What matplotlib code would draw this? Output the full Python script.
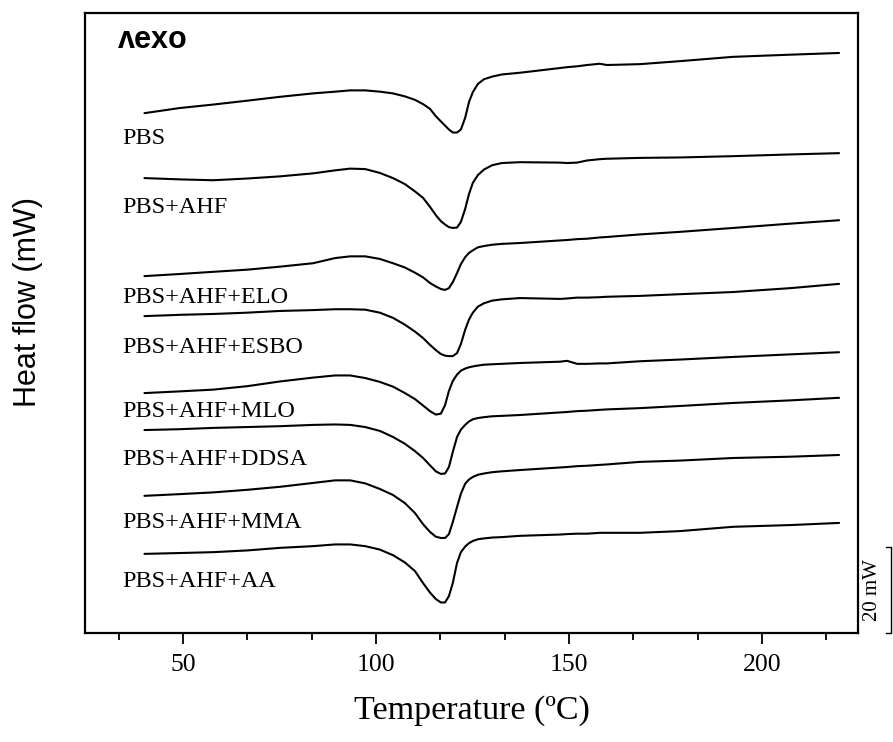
import numpy as np
import matplotlib
matplotlib.use("Agg")
import matplotlib.pyplot as plt
from matplotlib.ticker import MultipleLocator, AutoMinorLocator

# DSC traces: temperature (degC) and heat flow (mW, stacked offsets included)
labels = ["PBS", "PBS+AHF", "PBS+AHF+ELO", "PBS+AHF+ESBO",
          "PBS+AHF+MLO", "PBS+AHF+DDSA", "PBS+AHF+MMA", "PBS+AHF+AA"]

temp = [40, 49.2, 57.8, 66.6, 75.1, 83.7, 89.4, 93.3, 97.2, 101.0,
        104.4, 107.5, 110.1, 112.2, 114.0, 115.5, 116.8, 117.9, 118.9, 119.9,
        121.0, 122.0, 123.1, 124.1, 125.1, 126.4, 128.0, 130.1, 132.6, 137.3,
        147.7, 149.5, 152.1, 154.7, 158.0, 159.8, 168.4, 178.8, 192.5, 207.3, 220]

pbs = [120.9, 122.1, 122.9, 123.8, 124.7, 125.5, 125.9, 126.2, 126.2, 125.9,
       125.5, 124.8, 124.0, 123.0, 121.9, 120.2, 119.0, 118.0, 117.1, 116.4,
       116.4, 117.1, 119.8, 123.5, 125.8, 127.7, 128.8, 129.4, 129.9, 130.3,
       131.4, 131.6, 131.8, 132.1, 132.4, 132.1, 132.3, 133.0, 134.0, 134.5, 134.9]
ahf = [105.8, 105.5, 105.3, 105.7, 106.2, 106.9, 107.6, 108.0, 107.9, 107.0,
       105.8, 104.4, 102.7, 101.2, 99.1, 97.2, 95.8, 95.0, 94.4, 94.2,
       94.3, 95.6, 98.6, 102.1, 104.7, 106.5, 107.8, 108.8, 109.3, 109.5,
       109.4, 109.3, 109.4, 109.9, 110.2, 110.3, 110.5, 110.6, 110.9, 111.3, 111.6]
elo = [83.0, 83.5, 84.0, 84.5, 85.2, 86.0, 87.2, 87.6, 87.6, 87.0,
       86.0, 85.0, 83.8, 82.7, 81.4, 80.6, 80.0, 79.8, 80.2, 81.6,
       83.7, 85.8, 87.4, 88.4, 89.0, 89.7, 90.0, 90.3, 90.5, 90.7,
       91.3, 91.4, 91.6, 91.7, 92.0, 92.1, 92.7, 93.3, 94.2, 95.2, 96.0]
esbo = [73.7, 74.0, 74.2, 74.5, 74.9, 75.1, 75.3, 75.3, 75.2, 74.5,
        73.3, 71.7, 70.1, 68.6, 67.0, 65.8, 64.9, 64.5, 64.4, 64.4,
        65.1, 67.2, 70.5, 72.9, 74.5, 75.9, 76.7, 77.3, 77.6, 77.9,
        77.7, 77.8, 78.0, 78.0, 78.1, 78.2, 78.4, 78.8, 79.3, 80.2, 81.2]
mlo = [55.8, 56.2, 56.6, 57.4, 58.5, 59.4, 59.9, 59.9, 59.3, 58.4,
       57.3, 55.8, 54.4, 52.9, 51.6, 50.8, 51.0, 53.0, 56.3, 58.6,
       60.1, 61.0, 61.5, 61.8, 62.0, 62.2, 62.4, 62.5, 62.6, 62.8,
       63.1, 63.3, 62.6, 62.6, 62.7, 62.7, 63.2, 63.6, 64.2, 64.8, 65.3]
ddsa = [47.2, 47.4, 47.7, 47.9, 48.1, 48.4, 48.5, 48.4, 47.9, 47.0,
        45.6, 44.0, 42.3, 40.7, 39.0, 37.6, 37.0, 37.1, 38.6, 42.1,
        45.6, 47.3, 48.4, 49.2, 49.7, 50.0, 50.2, 50.4, 50.5, 50.7,
        51.3, 51.4, 51.6, 51.7, 51.9, 52.0, 52.3, 52.8, 53.5, 54.1, 54.7]
mma = [31.9, 32.3, 32.7, 33.3, 34.0, 34.9, 35.5, 35.5, 34.8, 33.5,
       32.1, 30.2, 27.9, 25.3, 23.5, 22.4, 22.1, 22.1, 23.0, 25.8,
       29.3, 32.4, 34.7, 35.7, 36.3, 36.8, 37.1, 37.4, 37.6, 37.9,
       38.5, 38.6, 38.8, 38.9, 39.1, 39.2, 39.8, 40.1, 40.7, 41.0, 41.4]
aa = [18.4, 18.6, 18.8, 19.2, 19.8, 20.2, 20.6, 20.6, 20.2, 19.4,
      18.1, 16.4, 14.4, 11.6, 9.4, 7.9, 7.1, 7.1, 8.6, 11.6,
      16.3, 18.8, 20.1, 20.9, 21.4, 21.8, 22.0, 22.2, 22.3, 22.6,
      22.9, 23.0, 23.1, 23.1, 23.3, 23.3, 23.3, 23.7, 24.7, 25.1, 25.6]

label_y = [113.7, 97.7, 76.7, 65.1, 50.2, 39.1, 24.4, 10.7]
scale_mw = 20

curves = [pbs, ahf, elo, esbo, mlo, ddsa, mma, aa]

serif = ["Liberation Serif", "DejaVu Serif"]
sans = ["Liberation Sans", "DejaVu Sans"]
fig = plt.figure(figsize=(8.93, 7.42), dpi=100)
ax = fig.add_axes([0.0952, 0.1469, 0.8656, 0.8356])

for y, lab, ly in zip(curves, labels, label_y):
    ax.plot(temp, y, color="black", lw=1.5, solid_joinstyle="round", solid_capstyle="round")
    ax.text(34.2, ly, lab, family=serif, fontsize=17.5, va="baseline", ha="left")

ax.text(33.2, 136.0, "ʌexo", family=sans, fontweight="bold", fontsize=22, va="baseline", ha="left")

# 20 mW scale bar outside the frame
ax.plot([232.1, 233.4, 233.4, 232.1], [scale_mw, scale_mw, 0, 0], color="black", lw=1.0, clip_on=False)
ax.text(228.6, scale_mw / 2, f"{scale_mw} mW", family=serif, fontsize=15, rotation=90,
        ha="center", va="center", clip_on=False)

ax.set_xlim(24.6, 224.9)
ax.set_ylim(0, 144.2)
ax.xaxis.set_major_locator(MultipleLocator(50))
ax.xaxis.set_minor_locator(AutoMinorLocator(3))
ax.tick_params(axis="x", which="major", direction="out", length=8, width=1.3, pad=7, labelsize=18.5)
ax.tick_params(axis="x", which="minor", direction="out", length=5, width=1.3)
ax.set_yticks([])
for lbl in ax.get_xticklabels():
    lbl.set_family(serif)
for s in ax.spines.values():
    s.set_linewidth(1.6)

ax.set_xlabel("Temperature (ºC)", family=serif, fontsize=24.5, labelpad=14)
fig.text(0.031, 0.593, "Heat flow (mW)", family=sans, fontsize=22, rotation=90, ha="center", va="center")

fig.savefig("out.png", dpi=100)
